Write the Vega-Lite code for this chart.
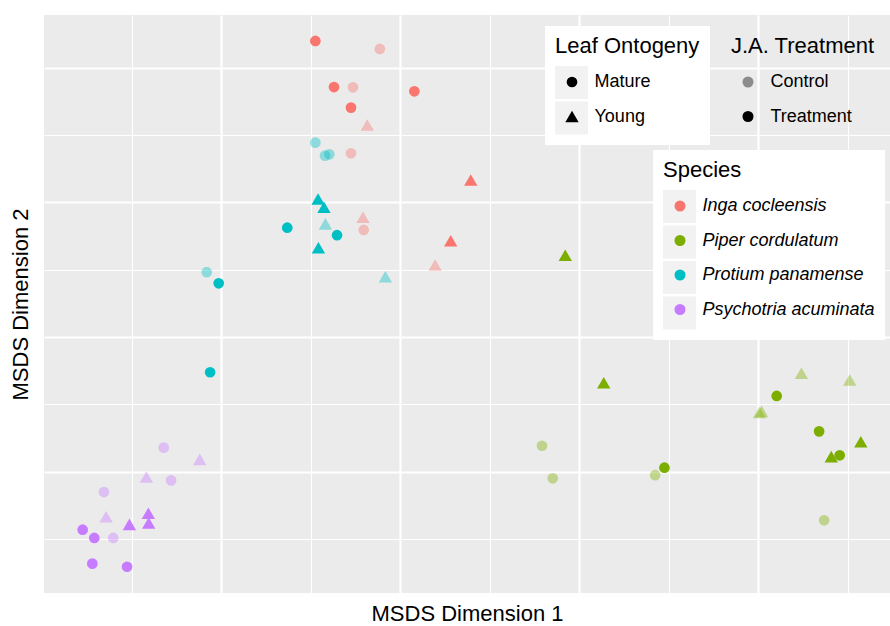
{
  "$schema": "https://vega.github.io/schema/vega-lite/v6.json",
  "width": 846,
  "height": 578,
  "autosize": "none",
  "padding": {"left": 44, "top": 15, "right": 0, "bottom": 33},
  "background": "white",
  "config": {
    "font": "Liberation Sans",
    "view": {"fill": "#EBEBEB", "stroke": null},
    "axis": {"domain": false, "ticks": false, "labels": false, "gridColor": "white", "titleFont": "Liberation Sans", "titleFontSize": 22, "titleFontWeight": "normal", "titleColor": "black"},
    "legend": {"titleFont": "Liberation Sans", "labelFont": "Liberation Sans", "titleFontSize": 22, "titleFontWeight": "normal", "labelFontSize": 18, "titleColor": "black", "labelColor": "black", "padding": 10, "rowPadding": 2.5, "titlePadding": 8, "labelOffset": 6.5, "symbolOffset": 0, "labelLimit": 400, "titleLimit": 400}
  },
  "data": {"values": [
    {"x": -0.1473, "y": 0.2199, "species": "Inga cocleensis", "onto": "Mature", "trt": "Treatment"},
    {"x": -0.1113, "y": 0.2140, "species": "Inga cocleensis", "onto": "Mature", "trt": "Control"},
    {"x": -0.1369, "y": 0.1857, "species": "Inga cocleensis", "onto": "Mature", "trt": "Treatment"},
    {"x": -0.1263, "y": 0.1855, "species": "Inga cocleensis", "onto": "Mature", "trt": "Control"},
    {"x": -0.0920, "y": 0.1825, "species": "Inga cocleensis", "onto": "Mature", "trt": "Treatment"},
    {"x": -0.1274, "y": 0.1704, "species": "Inga cocleensis", "onto": "Mature", "trt": "Treatment"},
    {"x": -0.1183, "y": 0.1575, "species": "Inga cocleensis", "onto": "Young", "trt": "Control"},
    {"x": -0.1274, "y": 0.1365, "species": "Inga cocleensis", "onto": "Mature", "trt": "Control"},
    {"x": -0.0605, "y": 0.1166, "species": "Inga cocleensis", "onto": "Young", "trt": "Treatment"},
    {"x": -0.1207, "y": 0.0889, "species": "Inga cocleensis", "onto": "Young", "trt": "Control"},
    {"x": -0.1203, "y": 0.0795, "species": "Inga cocleensis", "onto": "Mature", "trt": "Control"},
    {"x": -0.0717, "y": 0.0715, "species": "Inga cocleensis", "onto": "Young", "trt": "Treatment"},
    {"x": -0.0804, "y": 0.0535, "species": "Inga cocleensis", "onto": "Young", "trt": "Control"},
    {"x": -0.0077, "y": 0.0607, "species": "Piper cordulatum", "onto": "Young", "trt": "Treatment"},
    {"x": 0.0138, "y": -0.0340, "species": "Piper cordulatum", "onto": "Young", "trt": "Treatment"},
    {"x": 0.1242, "y": -0.0270, "species": "Piper cordulatum", "onto": "Young", "trt": "Control"},
    {"x": 0.1512, "y": -0.0319, "species": "Piper cordulatum", "onto": "Young", "trt": "Control"},
    {"x": 0.1104, "y": -0.0438, "species": "Piper cordulatum", "onto": "Mature", "trt": "Treatment"},
    {"x": 0.1008, "y": -0.0561, "species": "Piper cordulatum", "onto": "Young", "trt": "Control"},
    {"x": 0.1020, "y": -0.0553, "species": "Piper cordulatum", "onto": "Young", "trt": "Control"},
    {"x": 0.1341, "y": -0.0701, "species": "Piper cordulatum", "onto": "Mature", "trt": "Treatment"},
    {"x": 0.1574, "y": -0.0778, "species": "Piper cordulatum", "onto": "Young", "trt": "Treatment"},
    {"x": 0.1409, "y": -0.0889, "species": "Piper cordulatum", "onto": "Young", "trt": "Treatment"},
    {"x": 0.1456, "y": -0.0879, "species": "Piper cordulatum", "onto": "Mature", "trt": "Treatment"},
    {"x": -0.0207, "y": -0.0808, "species": "Piper cordulatum", "onto": "Mature", "trt": "Control"},
    {"x": -0.0147, "y": -0.1050, "species": "Piper cordulatum", "onto": "Mature", "trt": "Control"},
    {"x": 0.0477, "y": -0.0971, "species": "Piper cordulatum", "onto": "Mature", "trt": "Treatment"},
    {"x": 0.0425, "y": -0.1027, "species": "Piper cordulatum", "onto": "Mature", "trt": "Control"},
    {"x": 0.1369, "y": -0.1362, "species": "Piper cordulatum", "onto": "Mature", "trt": "Control"},
    {"x": -0.1473, "y": 0.1444, "species": "Protium panamense", "onto": "Mature", "trt": "Control"},
    {"x": -0.1419, "y": 0.1347, "species": "Protium panamense", "onto": "Mature", "trt": "Control"},
    {"x": -0.1395, "y": 0.1357, "species": "Protium panamense", "onto": "Mature", "trt": "Control"},
    {"x": -0.1458, "y": 0.1025, "species": "Protium panamense", "onto": "Young", "trt": "Treatment"},
    {"x": -0.1425, "y": 0.0964, "species": "Protium panamense", "onto": "Young", "trt": "Treatment"},
    {"x": -0.1417, "y": 0.0840, "species": "Protium panamense", "onto": "Young", "trt": "Control"},
    {"x": -0.1630, "y": 0.0812, "species": "Protium panamense", "onto": "Mature", "trt": "Treatment"},
    {"x": -0.1352, "y": 0.0756, "species": "Protium panamense", "onto": "Mature", "trt": "Treatment"},
    {"x": -0.1456, "y": 0.0663, "species": "Protium panamense", "onto": "Young", "trt": "Treatment"},
    {"x": -0.2080, "y": 0.0481, "species": "Protium panamense", "onto": "Mature", "trt": "Control"},
    {"x": -0.2013, "y": 0.0399, "species": "Protium panamense", "onto": "Mature", "trt": "Treatment"},
    {"x": -0.1082, "y": 0.0448, "species": "Protium panamense", "onto": "Young", "trt": "Control"},
    {"x": -0.2061, "y": -0.0262, "species": "Protium panamense", "onto": "Mature", "trt": "Treatment"},
    {"x": -0.2320, "y": -0.0822, "species": "Psychotria acuminata", "onto": "Mature", "trt": "Control"},
    {"x": -0.2119, "y": -0.0909, "species": "Psychotria acuminata", "onto": "Young", "trt": "Control"},
    {"x": -0.2417, "y": -0.1040, "species": "Psychotria acuminata", "onto": "Young", "trt": "Control"},
    {"x": -0.2279, "y": -0.1065, "species": "Psychotria acuminata", "onto": "Mature", "trt": "Control"},
    {"x": -0.2654, "y": -0.1152, "species": "Psychotria acuminata", "onto": "Mature", "trt": "Control"},
    {"x": -0.2642, "y": -0.1335, "species": "Psychotria acuminata", "onto": "Young", "trt": "Control"},
    {"x": -0.2406, "y": -0.1310, "species": "Psychotria acuminata", "onto": "Young", "trt": "Treatment"},
    {"x": -0.2404, "y": -0.1382, "species": "Psychotria acuminata", "onto": "Young", "trt": "Treatment"},
    {"x": -0.2512, "y": -0.1392, "species": "Psychotria acuminata", "onto": "Young", "trt": "Treatment"},
    {"x": -0.2773, "y": -0.1432, "species": "Psychotria acuminata", "onto": "Mature", "trt": "Treatment"},
    {"x": -0.2708, "y": -0.1493, "species": "Psychotria acuminata", "onto": "Mature", "trt": "Treatment"},
    {"x": -0.2602, "y": -0.1493, "species": "Psychotria acuminata", "onto": "Mature", "trt": "Control"},
    {"x": -0.2719, "y": -0.1684, "species": "Psychotria acuminata", "onto": "Mature", "trt": "Treatment"},
    {"x": -0.2525, "y": -0.1707, "species": "Psychotria acuminata", "onto": "Mature", "trt": "Treatment"}
  ]},
  "encoding": {
    "x": {
      "field": "x", "type": "quantitative",
      "scale": {"domain": [-0.2989, 0.1737], "nice": false, "zero": false},
      "axis": {"title": "MSDS Dimension 1", "titlePadding": 10,
        "values": [-0.25, -0.2, -0.15, -0.1, -0.05, 0, 0.05, 0.1, 0.15],
        "gridWidth": {"condition": {"test": "abs(datum.value*10 - round(datum.value*10)) > 0.01", "value": 1.1}, "value": 2.2}}
    },
    "y": {
      "field": "y", "type": "quantitative",
      "scale": {"domain": [-0.1902, 0.2392], "nice": false, "zero": false},
      "axis": {"title": "MSDS Dimension 2", "titlePadding": 12,
        "values": [-0.15, -0.1, -0.05, 0, 0.05, 0.1, 0.15, 0.2],
        "gridWidth": {"condition": {"test": "abs(datum.value*10 - round(datum.value*10)) > 0.01", "value": 1.1}, "value": 2.2}}
    }
  },
  "layer": [
    {
      "mark": {"type": "point", "filled": true, "size": 0, "strokeWidth": 0},
      "encoding": {
        "color": {
          "field": "species", "type": "nominal",
          "scale": {"range": ["#F2F2F2", "#F2F2F2", "#F2F2F2", "#F2F2F2"]},
          "legend": {"title": "Species", "orient": "none", "legendX": 609, "legendY": 135, "labelFontStyle": "italic", "symbolType": "square", "symbolSize": 1089, "symbolStrokeWidth": 0, "symbolOpacity": 1, "titleOpacity": 0, "labelOpacity": 0, "fillColor": "white", "zindex": 0}
        },
        "stroke": {
          "field": "onto", "type": "nominal",
          "scale": {"range": ["#F2F2F2", "#F2F2F2"]},
          "legend": {"title": "Leaf Ontogeny", "orient": "none", "legendX": 501, "legendY": 11, "symbolType": "square", "symbolSize": 1089, "symbolFillColor": "#F2F2F2", "symbolStrokeWidth": 0, "symbolOpacity": 1, "titleOpacity": 0, "labelOpacity": 0, "fillColor": "white", "zindex": 0}
        },
        "fillOpacity": {
          "field": "trt", "type": "nominal",
          "scale": {"range": [1, 1]},
          "legend": {"title": "J.A. Treatment", "orient": "none", "legendX": 677, "legendY": 11, "symbolType": "square", "symbolSize": 1089, "symbolFillColor": "#F2F2F2", "symbolStrokeWidth": 0, "symbolOpacity": 1, "titleOpacity": 0, "labelOpacity": 0, "fillColor": "white", "zindex": 0}
        }
      }
    },
    {
      "mark": {"type": "point", "filled": true, "size": 115},
      "encoding": {
        "fill": {
          "field": "species", "type": "nominal",
          "scale": {"domain": ["Inga cocleensis", "Piper cordulatum", "Protium panamense", "Psychotria acuminata"], "range": ["#F8766D", "#7CAE00", "#00BFC4", "#C77CFF"]},
          "legend": {"title": "Species", "orient": "none", "legendX": 609, "legendY": 135, "labelFontStyle": "italic", "symbolType": "circle", "symbolSize": 121, "symbolStrokeColor": "transparent", "symbolStrokeWidth": 5.5, "symbolOpacity": 1, "symbolOffset": 8, "labelOffset": 13.5, "rowPadding": 0.5, "titlePadding": 15, "zindex": 1}
        },
        "shape": {
          "field": "onto", "type": "nominal",
          "scale": {"domain": ["Mature", "Young"], "range": ["circle", "M0,-1.08L1.245,1.08L-1.245,1.08Z"]},
          "legend": {"title": "Leaf Ontogeny", "orient": "none", "legendX": 501, "legendY": 11, "symbolSize": 115, "symbolFillColor": "black", "symbolStrokeColor": "transparent", "symbolStrokeWidth": 5.5, "symbolOpacity": 1, "symbolOffset": 8, "labelOffset": 13.5, "rowPadding": 0.5, "titlePadding": 15, "zindex": 1}
        },
        "opacity": {
          "field": "trt", "type": "nominal",
          "scale": {"domain": ["Control", "Treatment"], "range": [0.4, 1]},
          "legend": {"title": "J.A. Treatment", "orient": "none", "legendX": 677, "legendY": 11, "symbolType": "circle", "symbolFillColor": "black", "symbolStrokeColor": "transparent", "symbolStrokeWidth": 5.5, "symbolSize": 121, "symbolOffset": 8, "labelOffset": 13.5, "rowPadding": 0.5, "titlePadding": 15, "zindex": 1}
        }
      }
    }
  ]
}
